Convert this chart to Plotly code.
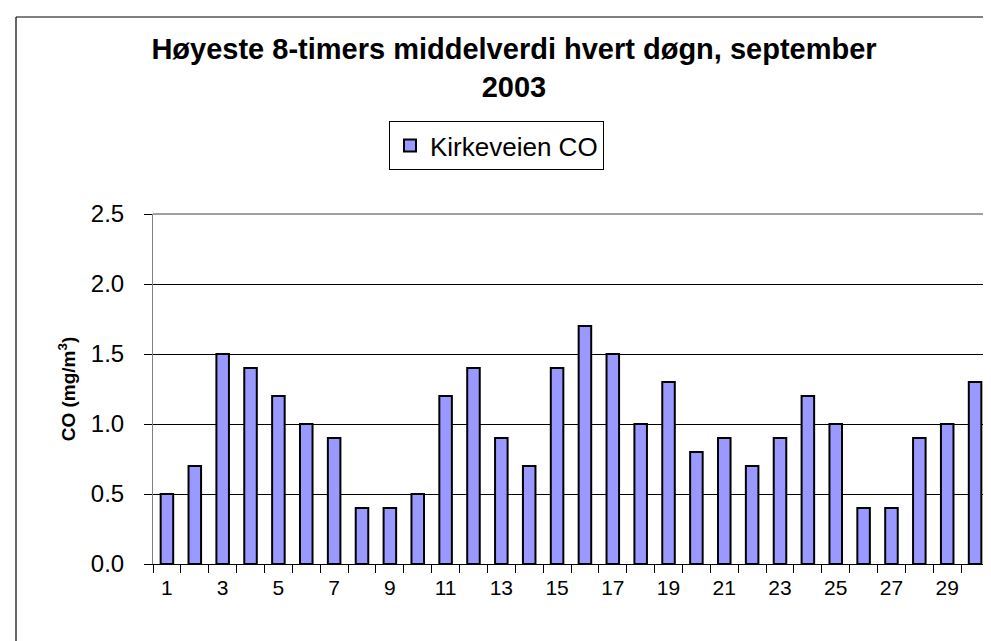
import plotly.graph_objects as go

days = list(range(1, 31))
co_values = [0.5, 0.7, 1.5, 1.4, 1.2, 1.0, 0.9, 0.4, 0.4, 0.5,
             1.2, 1.4, 0.9, 0.7, 1.4, 1.7, 1.5, 1.0, 1.3, 0.8,
             0.9, 0.7, 0.9, 1.2, 1.0, 0.4, 0.4, 0.9, 1.0, 1.3]
x_tick_vals = [1, 3, 5, 7, 9, 11, 13, 15, 17, 19, 21, 23, 25, 27, 29]
x_tick_text = [str(v) for v in x_tick_vals]
y_ticks = [0.0, 0.5, 1.0, 1.5, 2.0, 2.5]
y_tick_text = ["0.0", "0.5", "1.0", "1.5", "2.0", "2.5"]
series_name = "Kirkeveien CO"
title_line1 = "Høyeste 8-timers middelverdi hvert døgn, september"
title_line2 = "2003"
y_title = "CO (mg/m<sup>3</sup>)"

W, H = 991, 641
L, R, T, B = 145, 981, 206, 556

fig = go.Figure()
fig.add_trace(go.Bar(
    x=days, y=co_values, name=series_name,
    marker=dict(color="#9999FF", line=dict(color="black", width=2)),
))

def px(x):
    return (x - L) / (R - L)

def py(y):
    return (B - y) / (B - T)

fig.update_layout(
    width=W, height=H,
    margin=dict(l=L, r=W - R, t=T, b=H - B, pad=0),
    paper_bgcolor="white", plot_bgcolor="white",
    font=dict(family="Liberation Sans, Arial, sans-serif", color="black"),
    bargap=0.55,
    showlegend=True,
    title=dict(text="<b>" + title_line1 + "</b><br><b>" + title_line2 + "</b>",
               font=dict(size=29, family="Liberation Sans, Arial, sans-serif"),
               x=506 / W, xanchor="center", xref="container",
               y=1 - 51 / H, yanchor="top", yref="container"),
    legend=dict(x=px(381), y=py(113), xanchor="left", yanchor="top",
                bordercolor="black", borderwidth=1, bgcolor="white",
                font=dict(size=26), itemwidth=30),
    xaxis=dict(range=[0.5, 30.5], tickmode="array", tickvals=x_tick_vals, ticktext=x_tick_text,
               ticks="", showline=True, linecolor="black", linewidth=1,
               showgrid=False, zeroline=False, tickfont=dict(size=21), tickangle=0,
               ticklabelstandoff=5,
               minor=dict(tickmode="linear", tick0=0.5, dtick=1, ticks="outside",
                          ticklen=8, tickcolor="black", tickwidth=1, showgrid=False)),
    yaxis=dict(range=[0, 2.5], tickmode="array", tickvals=y_ticks, ticktext=y_tick_text,
               ticks="outside", ticklen=8, tickcolor="black",
               showline=True, linecolor="#808080", linewidth=1,
               showgrid=True, gridcolor="black", gridwidth=1, zeroline=False,
               tickfont=dict(size=24), ticklabelstandoff=15,
               title=dict(text="<b>" + y_title + "</b>", font=dict(size=19), standoff=10)),
    shapes=[
        dict(type="line", xref="paper", yref="paper", x0=0, x1=1, y0=1, y1=1,
             line=dict(color="#808080", width=1.5)),
        dict(type="line", xref="paper", yref="paper", x0=1, x1=1, y0=0, y1=1,
             line=dict(color="#808080", width=1.5)),
        dict(type="line", xref="paper", yref="paper", x0=px(8), x1=px(8), y0=py(9), y1=py(660),
             line=dict(color="black", width=1.2)),
        dict(type="line", xref="paper", yref="paper", x0=px(8), x1=px(1010), y0=py(9), y1=py(9),
             line=dict(color="black", width=1.2)),
    ],
)

fig.write_html("out.html")
